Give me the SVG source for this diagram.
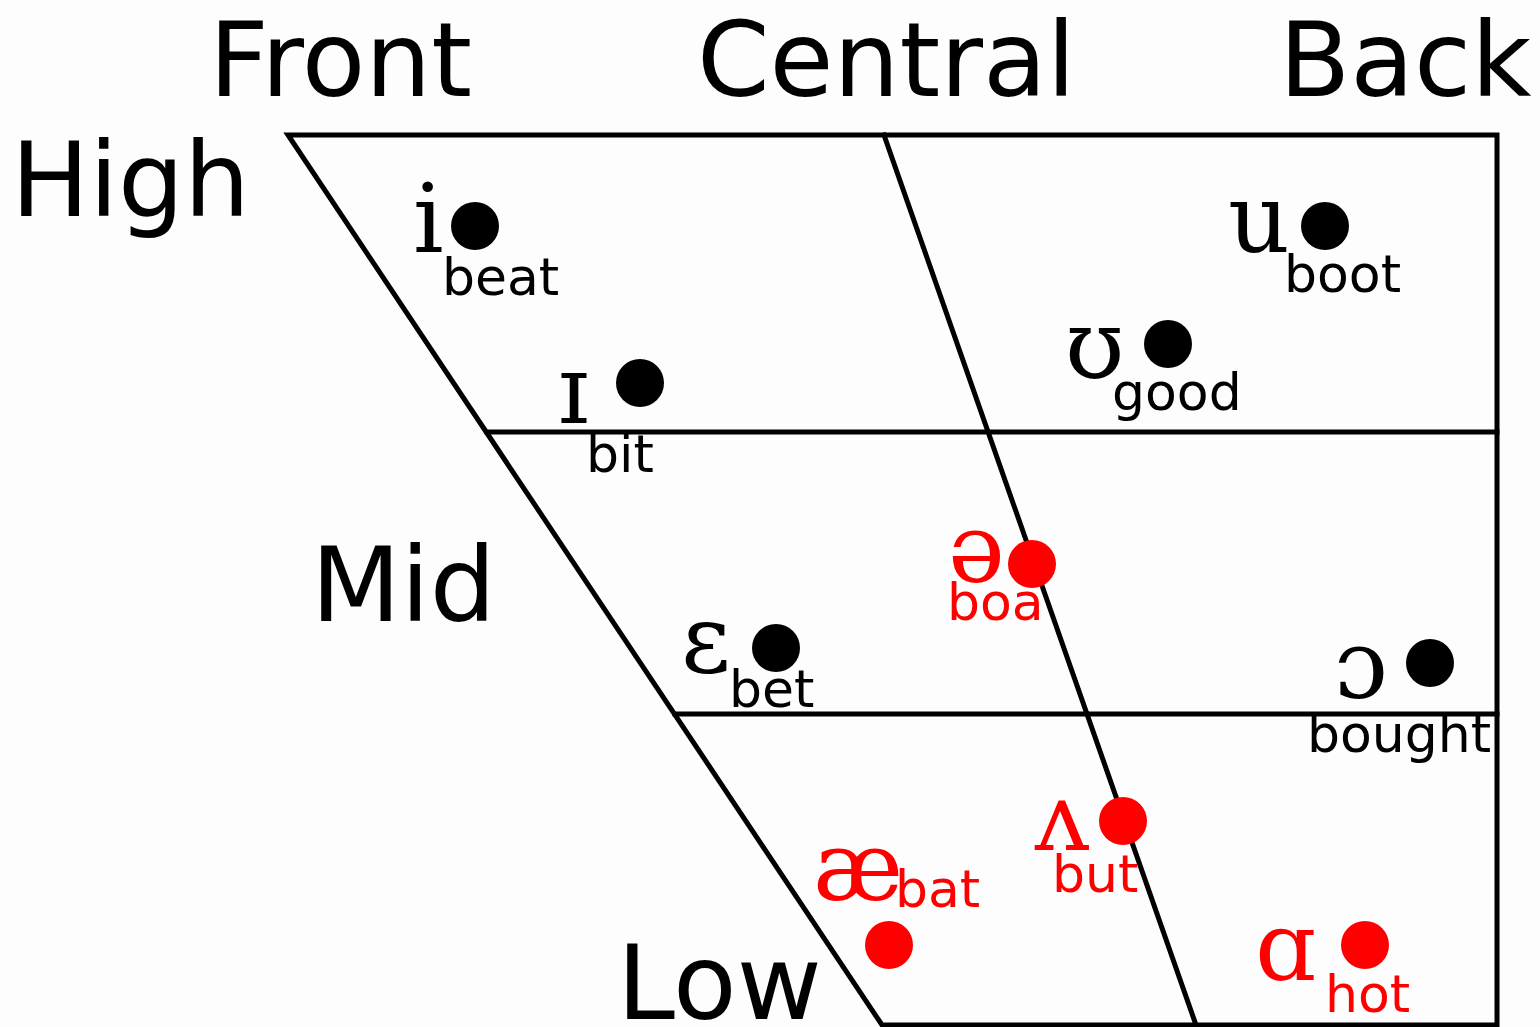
<svg xmlns="http://www.w3.org/2000/svg" width="1540" height="1027" viewBox="0 0 1540 1027">
<style>
.ax{font-family:"DejaVu Sans",sans-serif;font-size:104px;fill:#000}
.ipa{font-family:"DejaVu Serif",serif;font-size:96px}
.lb{font-family:"DejaVu Sans",sans-serif;font-size:52px}
.k{fill:#000}
.r{fill:#ff0000}
.ln{stroke:#000;stroke-width:5;fill:none;stroke-linecap:square}
</style>
<rect width="1540" height="1027" fill="#fdfdfd"/>
<g id="chart-lines">
<path class="ln" d="M288 135 H1497 V1025 H882 Z"/>
<line class="ln" x1="884" y1="135" x2="1196" y2="1025"/>
<line class="ln" x1="487" y1="432" x2="1497" y2="432"/>
<line class="ln" x1="675" y1="714" x2="1497" y2="714"/>
</g>
<g id="axis-labels">
<text class="ax" x="209" y="96">Front</text>
<text class="ax" x="697" y="96">Central</text>
<text class="ax" x="1279" y="96">Back</text>
<text class="ax" x="11" y="216">High</text>
<text class="ax" x="311" y="621">Mid</text>
<text class="ax" x="617" y="1019">Low</text>
</g>
<g id="v-i" class="k"><text class="ipa" x="413" y="252">i</text><circle cx="475" cy="226" r="24"/><text class="lb" x="442" y="295">beat</text></g>
<g id="v-I" class="k"><text class="ipa" x="558" y="423">ɪ</text><circle cx="640" cy="383" r="24"/><text class="lb" x="586" y="472">bit</text></g>
<g id="v-u" class="k"><text class="ipa" x="1228" y="252">u</text><circle cx="1325" cy="226" r="24"/><text class="lb" x="1284" y="292">boot</text></g>
<g id="v-U" class="k"><text class="ipa" x="1065" y="378">ʊ</text><circle cx="1168" cy="344" r="24"/><text class="lb" x="1112" y="410">good</text></g>
<g id="v-schwa" class="r"><text class="ipa" x="948" y="582">ə</text><circle cx="1032" cy="564" r="24"/><text class="lb" x="947" y="620">boa</text></g>
<g id="v-e" class="k"><text class="ipa" x="681" y="672">ɛ</text><circle cx="776" cy="648" r="24"/><text class="lb" x="729" y="707">bet</text></g>
<g id="v-o" class="k"><text class="ipa" x="1334" y="698">ɔ</text><circle cx="1430" cy="663" r="24"/><text class="lb" x="1307" y="752">bought</text></g>
<g id="v-wedge" class="r"><text class="ipa" x="1035" y="850">ʌ</text><circle cx="1123" cy="821" r="24"/><text class="lb" x="1052" y="892">but</text></g>
<g id="v-ae" class="r"><text class="ipa" x="813" y="900">æ</text><circle cx="889" cy="945" r="24"/><text class="lb" x="895" y="907">bat</text></g>
<g id="v-a" class="r"><text class="ipa" x="1255" y="980">ɑ</text><circle cx="1365" cy="945" r="24"/><text class="lb" x="1325" y="1012">hot</text></g>
</svg>
